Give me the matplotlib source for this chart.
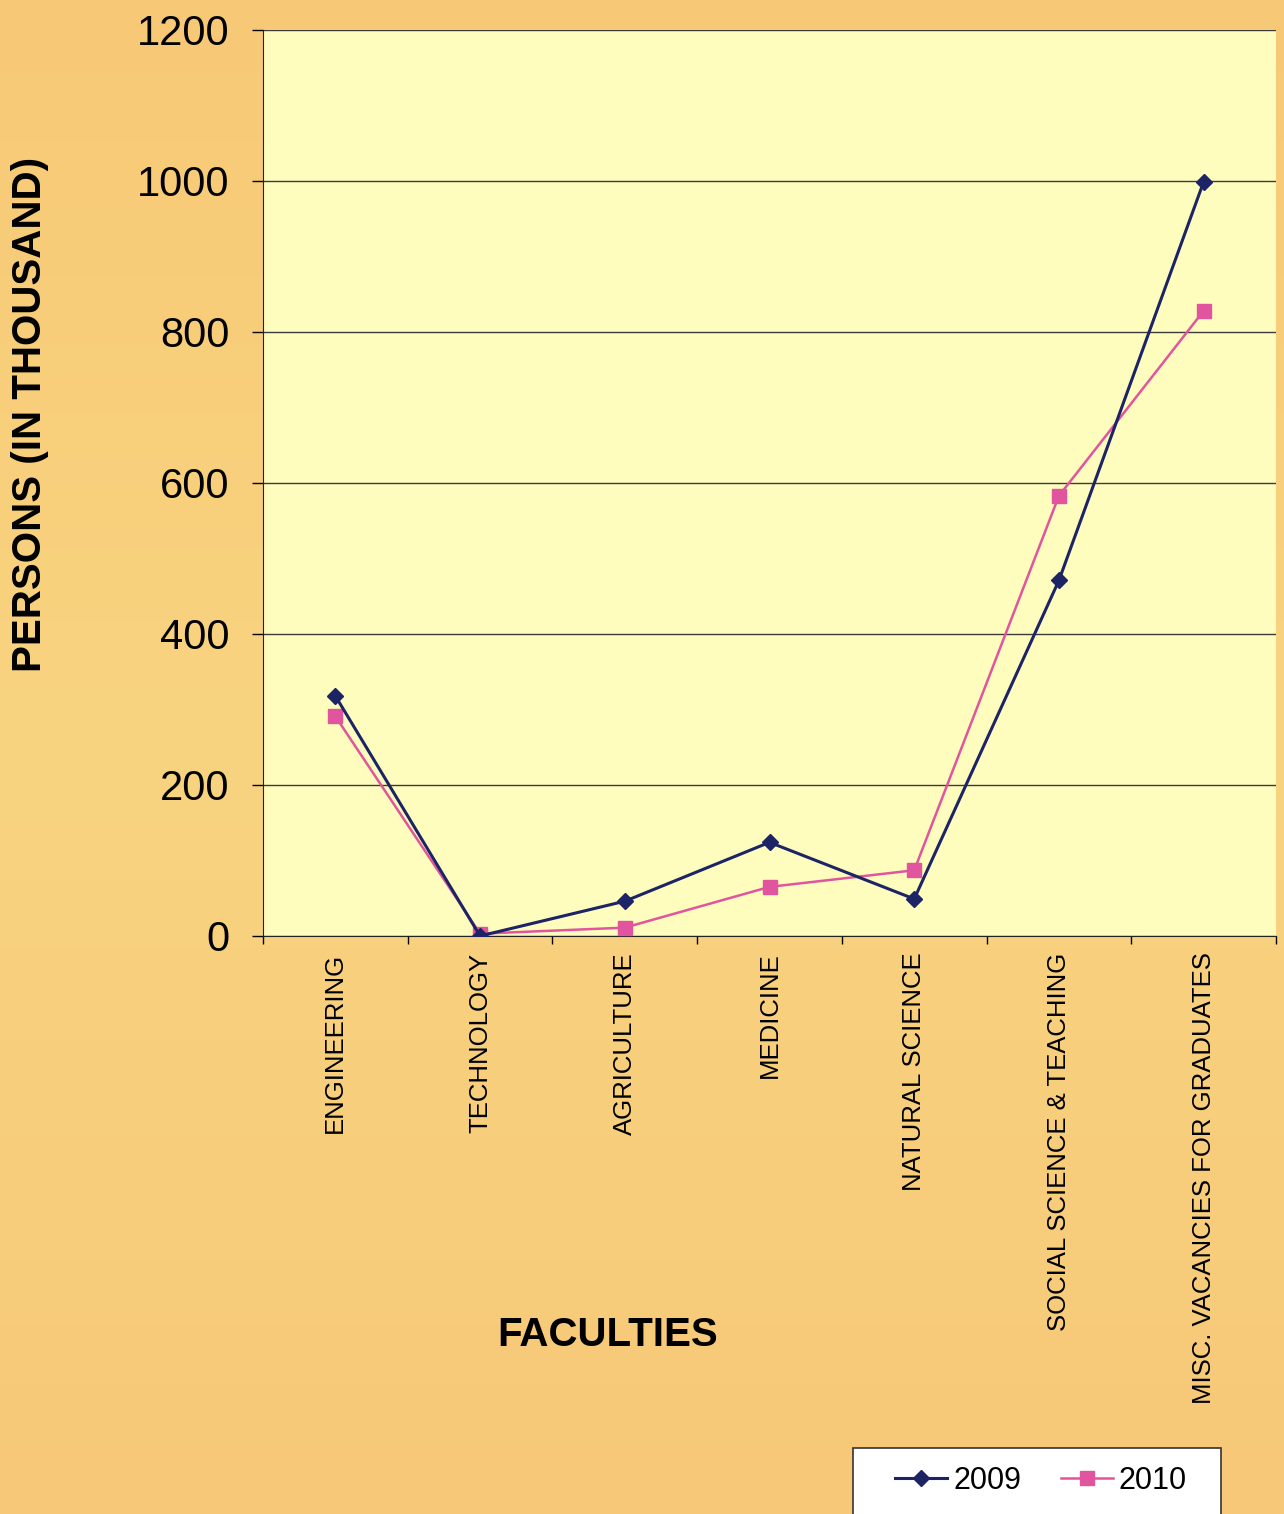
import numpy as np
import matplotlib
matplotlib.use("Agg")
import matplotlib.pyplot as plt
from matplotlib.patches import Rectangle

plt.rcParams['font.family'] = ['Liberation Sans', 'DejaVu Sans']

# === Data (persons, in thousand)
faculties = ["ENGINEERING", "TECHNOLOGY", "AGRICULTURE", "MEDICINE",
             "NATURAL SCIENCE", "SOCIAL SCIENCE & TEACHING",
             "MISC. VACANCIES FOR GRADUATES"]
values_2009 = [318, 0, 46, 124, 49, 471, 999]
values_2010 = [291, 3, 11, 65, 87, 583, 828]
yticks = [0, 200, 400, 600, 800, 1000, 1200]

# === Figure
fig = plt.figure(figsize=(12.84, 15.14), dpi=100)
fig.patch.set_facecolor("#F8CE7C")

# soft vertical background gradient behind everything
bg = fig.add_axes([0, 0, 1, 1], zorder=-10)
grad = np.linspace(0, 1, 256).reshape(-1, 1)
bg.imshow(grad, aspect="auto", extent=[0, 1, 0, 1],
          cmap=matplotlib.colors.LinearSegmentedColormap.from_list(
              "bgc", ["#F7C976", "#F9D480", "#F6C878"]))
bg.axis("off")

ax = fig.add_axes([0.2048, 0.3818, 0.789, 0.5984])
ax.set_facecolor("#FFFDBE")

x = np.arange(len(faculties))
ax.plot(x, values_2009, color="#1C2466", lw=2.2, marker="D", ms=8,
        label="2009", zorder=4)
ax.plot(x, values_2010, color="#E0559E", lw=1.8, marker="s", ms=10,
        label="2010", zorder=3)

ax.set_xlim(-0.5, len(faculties) - 0.5)
ax.set_ylim(0, 1200)
ax.set_yticks(yticks)
ax.yaxis.grid(True, color="#3a3a3a", lw=1.0)
ax.set_axisbelow(True)

ax.set_xticks(x)
ax.set_xticklabels(faculties, rotation=90, fontsize=18.5, va="top", ha="center")
ax.set_xticks(np.arange(-0.5, len(faculties)), minor=True)
ax.tick_params(axis="x", which="major", length=0, pad=12)
ax.tick_params(axis="x", which="minor", length=6, width=1, direction="out")
ax.tick_params(axis="y", labelsize=30, length=8, width=1, pad=16)

for side in ["top", "right"]:
    ax.spines[side].set_visible(False)
ax.spines["left"].set_color("#222222")
ax.spines["bottom"].set_color("#222222")

fig.text(0.023, 0.726, "PERSONS (IN THOUSAND)", rotation=90, fontsize=29,
         fontweight="bold", ha="center", va="center")
fig.text(0.473, 0.118, "FACULTIES", fontsize=29, fontweight="bold",
         ha="center", va="center")

# legend box: wider side padding than top padding, so draw frame by hand
fig.patches.append(Rectangle((0.6643, -0.01), 0.2866, 0.0536,
                             transform=fig.transFigure, facecolor="white",
                             edgecolor="#333333", lw=1.2, zorder=5))
leg = fig.legend(loc="center", bbox_to_anchor=(0.8107, 0.0218), ncol=2,
                 fontsize=22, frameon=False, handlelength=1.7,
                 handletextpad=0.2, columnspacing=1.3)
leg.set_zorder(6)

fig.savefig("out.png", dpi=100, facecolor=fig.get_facecolor())
